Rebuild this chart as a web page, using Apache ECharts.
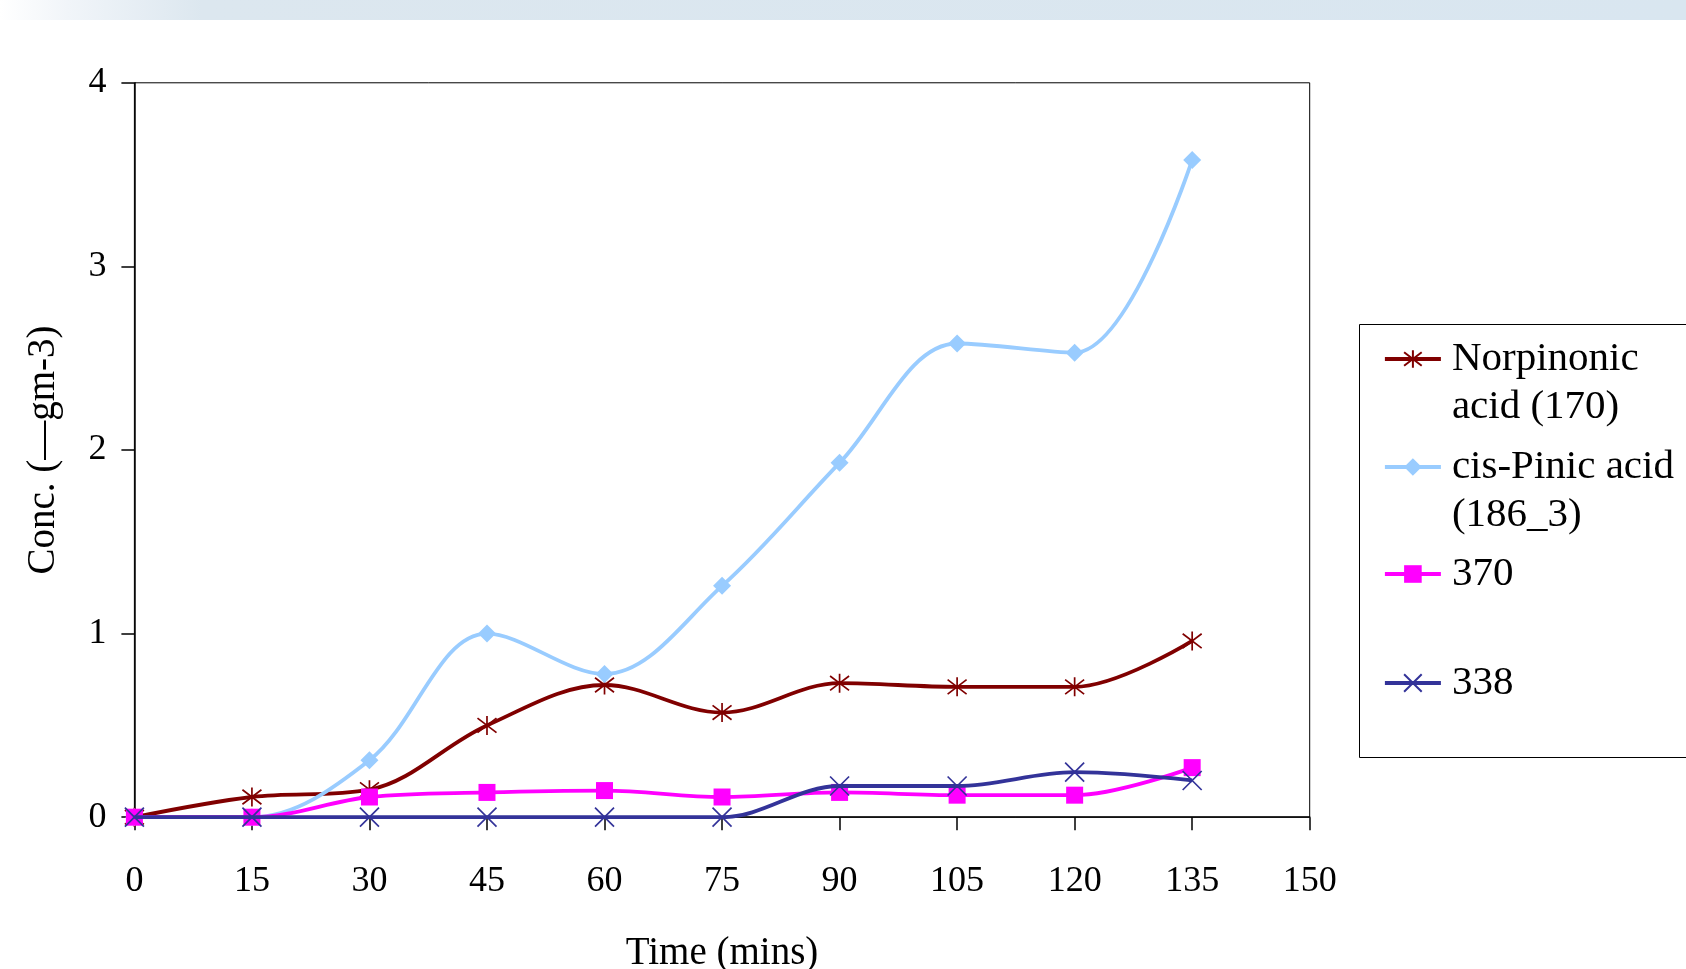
<!DOCTYPE html>
<html>
<head>
<meta charset="utf-8">
<script src="https://cdn.jsdelivr.net/npm/echarts@6/dist/echarts.min.js"></script>
<style>
html,body{margin:0;padding:0;background:#fff;}
#chart{width:1686px;height:969px;}
</style>
</head>
<body>
<div id="chart"></div>
<script>
// ---- data ----
var times = [0, 15, 30, 45, 60, 75, 90, 105, 120, 135];
var norpinonic = [0, 0.11, 0.15, 0.50, 0.72, 0.57, 0.73, 0.71, 0.71, 0.96];
var cisPinic   = [0, 0, 0.31, 1.00, 0.78, 1.26, 1.93, 2.58, 2.53, 3.58];
var s370       = [0, 0, 0.11, 0.135, 0.145, 0.11, 0.135, 0.12, 0.12, 0.27];
var s338       = [0, 0, 0, 0, 0, 0, 0.17, 0.17, 0.245, 0.20];
var seriesNames = ['Norpinonic acid (170)', 'cis-Pinic acid (186_3)', '370', '338'];
var legendLines = [['Norpinonic', 'acid (170)'], ['cis-Pinic acid', '(186_3)'], ['370'], ['338']];
var xTicks = [0, 15, 30, 45, 60, 75, 90, 105, 120, 135, 150];
var yTicks = [0, 1, 2, 3, 4];
var xTitle = 'Time (mins)';
var yTitle = 'Conc. (\u2014gm-3)';

function pairs(vals){ return times.map(function(t,i){ return [t, vals[i]]; }); }

var FONT = '"Liberation Serif", "Times New Roman", serif';
var colors = ['#800000', '#99CCFF', '#FF00FF', '#333399'];
var starPath = 'path://M5,0 L5,10 M1.2,1.2 L8.8,8.8 M8.8,1.2 L1.2,8.8';
var xPath = 'path://M0,0 L10,10 M10,0 L0,10';
var symbols = [starPath, 'diamond', 'rect', xPath];
var symSizes = [19, 18, 17, 19];
var dataSets = [norpinonic, cisPinic, s370, s338];

var series = dataSets.map(function(d, i){
  var isPath = (i === 0 || i === 3);
  return {
    name: seriesNames[i],
    type: 'line',
    data: pairs(d),
    smooth: 0.35,
    symbol: symbols[i],
    symbolSize: symSizes[i],
    showSymbol: true,
    z: 2 + i,
    lineStyle: {color: colors[i], width: 3.8},
    itemStyle: isPath ? {color: colors[i], borderColor: colors[i], borderWidth: 1.7}
                      : {color: colors[i], borderWidth: 0},
    emphasis: {disabled: true}
  };
});

// legend symbol centers (y) for each entry
var legendY = [359, 467, 574, 683];
var LH = 48;
var legends = seriesNames.map(function(n, i){
  var ls = legendLines[i];
  var twoLine = ls.length > 1;
  return {
    data: [n],
    left: 1383,
    top: twoLine ? legendY[i] - LH * 1.5 : legendY[i] - LH / 2,
    padding: 0,
    orient: 'vertical',
    itemWidth: 56,
    itemHeight: 22,
    itemGap: 0,
    selectedMode: false,
    lineStyle: {width: 3.8},
    formatter: function(){
      return twoLine ? '{a|\u00a0}\n{a|' + ls[0] + '}\n{a|' + ls[1] + '}' : '{a|' + ls[0] + '}';
    },
    textStyle: {
      fontFamily: FONT, fontSize: 41, color: '#000', lineHeight: LH,
      rich: {a: {fontFamily: FONT, fontSize: 41, color: '#000', lineHeight: LH, padding: [0, 0, 0, 6]}}
    }
  };
});

var chart = echarts.init(document.getElementById('chart'), null, {renderer: 'canvas'});
chart.setOption({
  animation: false,
  backgroundColor: '#fff',
  grid: {left: 134.4, top: 82.8, right: 376.3, bottom: 151.8, show: true, borderColor: '#000', borderWidth: 1,
         containLabel: false, outerBoundsMode: 'none'},
  graphic: [
    {type: 'rect', left: 0, top: 0, z: -1, shape: {width: 1686, height: 20},
     style: {fill: new echarts.graphic.LinearGradient(0, 0, 1, 0, [
       {offset: 0, color: '#FFFFFF'}, {offset: 0.04, color: '#F1F5F9'},
       {offset: 0.12, color: '#DCE7EF'}, {offset: 1, color: '#D9E6F0'}])}},
    {type: 'rect', z: -1, shape: {x: 1359.5, y: 324.5, width: 400, height: 433},
     style: {fill: '#fff', stroke: '#000', lineWidth: 1}}
  ],
  legend: legends,
  xAxis: {
    type: 'value', min: xTicks[0], max: xTicks[xTicks.length - 1], interval: 15,
    name: xTitle, nameLocation: 'middle', nameGap: 117,
    nameTextStyle: {fontFamily: FONT, fontSize: 39, color: '#000'},
    axisLine: {show: true, onZero: false, lineStyle: {color: '#000', width: 1.5}},
    axisTick: {show: true, length: 13, inside: false, lineStyle: {color: '#000', width: 1.5}},
    axisLabel: {fontFamily: FONT, fontSize: 36, color: '#000', margin: 46,
      customValues: xTicks},
    splitLine: {show: false}
  },
  yAxis: {
    type: 'value', min: yTicks[0], max: yTicks[yTicks.length - 1], interval: 1,
    name: yTitle, nameLocation: 'middle', nameGap: 71, nameRotate: 90,
    nameTextStyle: {fontFamily: FONT, fontSize: 39, color: '#000'},
    axisLine: {show: true, lineStyle: {color: '#000', width: 1.5}},
    axisTick: {show: true, length: 13, inside: false, lineStyle: {color: '#000', width: 1.5}},
    axisLabel: {fontFamily: FONT, fontSize: 36, color: '#000', margin: 28},
    splitLine: {show: false}
  },
  series: series
});
</script>
</body>
</html>
